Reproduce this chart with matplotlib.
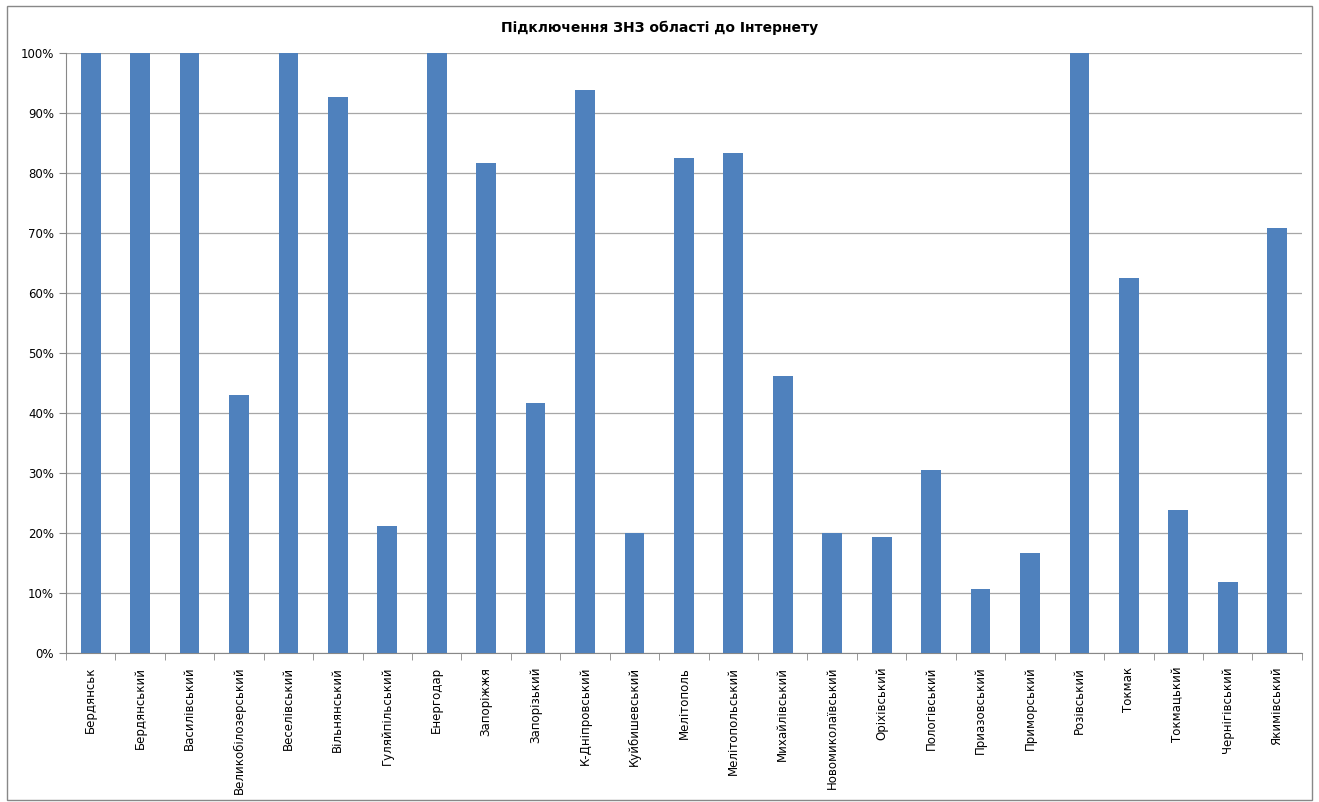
import matplotlib.pyplot as plt
from matplotlib.patches import Rectangle
from matplotlib.ticker import FixedLocator, PercentFormatter

# Share of schools connected to the Internet, by district/city
districts = [
    "Бердянськ", "Бердянський", "Василівський", "Великобілозерський",
    "Веселівський", "Вільнянський", "Гуляйпільський", "Енергодар",
    "Запоріжжя", "Запорізький", "К-Дніпровський", "Куйбишевський",
    "Мелітополь", "Мелітопольський", "Михайлівський", "Новомиколаївський",
    "Оріхівський", "Пологівський", "Приазовський", "Приморський",
    "Розівський", "Токмак", "Токмацький", "Чернігівський", "Якимівський",
]
connected = [
    100, 100, 100, 42.9, 100, 92.7, 21.2, 100, 81.7, 41.7,
    93.8, 20.0, 82.5, 83.3, 46.2, 20.0, 19.3, 30.5, 10.7, 16.7,
    100, 62.5, 23.8, 11.8, 70.8,
]

plt.rcParams['font.family'] = ['DejaVu Sans']

fig = plt.figure(figsize=(13.19, 8.02), dpi=100)
ax = fig.add_axes([0.05, 0.186, 0.937, 0.748])

x = range(len(districts))
ax.bar(x, connected, width=0.4, color='#4f81bd', zorder=3)

ax.set_ylim(0, 100)
ax.set_xlim(-0.5, len(districts) - 0.5)
ax.set_yticks(range(0, 101, 10))
ax.yaxis.set_major_formatter(PercentFormatter(decimals=0))
ax.grid(axis='y', color='#a6a6a6', linewidth=0.9, zorder=0)

ax.set_xticks(list(x))
ax.set_xticklabels(districts, rotation=90, fontsize=8.5)
ax.tick_params(axis='x', which='major', length=0, pad=10)
ax.xaxis.set_minor_locator(FixedLocator([i - 0.5 for i in range(len(districts) + 1)]))
ax.tick_params(axis='x', which='minor', length=5, color='#888888')
ax.tick_params(axis='y', length=5, color='#888888', labelsize=8.5)

for side in ('top', 'right'):
    ax.spines[side].set_visible(False)
for side in ('left', 'bottom'):
    ax.spines[side].set_color('#888888')

fig.text(0.5, 0.965, "Підключення ЗНЗ області до Інтернету",
         ha='center', va='center', fontsize=10, fontweight='bold')

# chart frame
fig.patches.append(Rectangle((0.005, 0.003), 0.99, 0.99, transform=fig.transFigure,
                             fill=False, edgecolor='#888888', linewidth=1))

fig.savefig("out.png", dpi=100)
